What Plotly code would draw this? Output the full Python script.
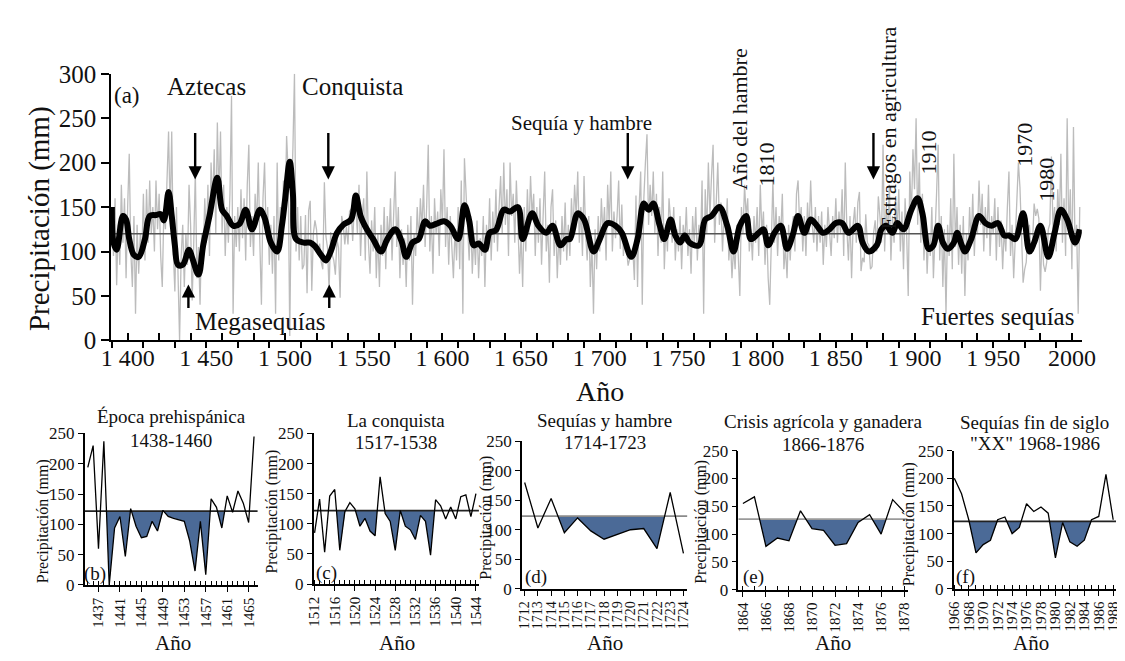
import plotly.graph_objects as go

W, H = 1125, 661
def px(x): return x / W
def py(y): return 1 - y / H

FONT = "Liberation Serif, Times New Roman, Times, serif"

# ---------------- main series (annual, 1390-2005) ----------------
grey_start = 1390
grey_rows = [
 [150, 95, 160, 62, 130, 85, 175, 110, 160, 70],      # 1390
 [150, 210, 100, 60, 140, 30, 130, 75, 120, 95],      # 1400
 [165, 90, 170, 110, 180, 120, 150, 100, 180, 125],   # 1410
 [165, 95, 60, 145, 125, 190, 235, 140, 235, 100],    # 1420
 [55, 150, 70, 0, 95, 130, 60, 120, 85, 175],         # 1430
 [130, 45, 110, 190, 70, 105, 40, 120, 95, 160],      # 1440
 [110, 175, 95, 200, 150, 215, 120, 245, 160, 235],   # 1450
 [120, 175, 95, 150, 110, 165, 275, 30, 140, 105],    # 1460
 [150, 100, 170, 115, 160, 90, 175, 220, 105, 140],   # 1470
 [95, 165, 130, 200, 110, 40, 160, 200, 120, 150],    # 1480
 [85, 130, 75, 140, 30, 200, 90, 150, 110, 180],      # 1490
 [140, 230, 190, 5, 160, 215, 300, 100, 150, 90],     # 1500
 [140, 80, 85, 141, 53, 146, 157, 56, 120, 135],      # 1510
 [125, 96, 109, 88, 80, 178, 117, 104, 56, 122],      # 1520
 [96, 90, 74, 114, 104, 48, 140, 130, 108, 128],      # 1530
 [108, 145, 148, 112, 150, 150, 120, 175, 95, 140],   # 1540
 [160, 90, 190, 110, 75, 135, 100, 150, 70, 120],     # 1550
 [60, 130, 95, 150, 80, 140, 110, 160, 90, 145],      # 1560
 [190, 105, 150, 70, 125, 85, 115, 60, 130, 90],      # 1570
 [140, 40, 120, 95, 150, 110, 160, 125, 175, 105],    # 1580
 [150, 220, 100, 140, 75, 160, 120, 145, 95, 170],    # 1590
 [130, 215, 105, 150, 85, 140, 110, 70, 125, 90],     # 1600
 [150, 80, 180, 30, 205, 160, 130, 90, 140, 75],      # 1610
 [120, 85, 135, 70, 115, 95, 140, 60, 130, 100],      # 1620
 [160, 90, 145, 110, 170, 100, 150, 185, 120, 200],   # 1630
 [130, 170, 95, 200, 140, 165, 110, 180, 130, 75],    # 1640
 [120, 60, 150, 100, 170, 120, 185, 140, 165, 95],    # 1650
 [150, 110, 160, 85, 140, 190, 100, 130, 65, 150],    # 1660
 [170, 95, 135, 70, 120, 85, 140, 100, 155, 90],      # 1670
 [130, 95, 160, 120, 175, 140, 190, 110, 150, 95],    # 1680
 [185, 120, 90, 140, 60, 110, 30, 125, 80, 140],      # 1690
 [100, 160, 120, 150, 90, 175, 130, 190, 100, 145],   # 1700
 [115, 140, 180, 103, 153, 95, 120, 98, 84, 92],      # 1710
 [100, 102, 68, 163, 60, 150, 190, 40, 160, 200],     # 1720
 [232, 130, 175, 140, 190, 120, 165, 95, 150, 110],   # 1730
 [190, 80, 130, 100, 160, 135, 110, 150, 90, 125],    # 1740
 [100, 140, 80, 130, 110, 150, 95, 125, 75, 140],     # 1750
 [110, 150, 90, 130, 105, 180, 30, 170, 120, 200],    # 1760
 [140, 185, 220, 110, 165, 200, 130, 155, 100, 145],  # 1770
 [120, 160, 90, 115, 70, 105, 80, 130, 95, 50],       # 1780
 [150, 120, 175, 140, 160, 100, 125, 90, 140, 110],   # 1790
 [150, 95, 175, 120, 145, 85, 130, 70, 40, 120],      # 1800
 [180, 110, 150, 95, 140, 120, 165, 80, 105, 70],     # 1810
 [130, 90, 125, 140, 100, 165, 180, 130, 150, 100],   # 1820
 [140, 95, 155, 120, 180, 130, 110, 150, 100, 140],   # 1830
 [110, 145, 85, 130, 105, 150, 120, 95, 140, 115],    # 1840
 [160, 110, 145, 120, 170, 95, 200, 125, 90, 140],    # 1850
 [70, 130, 150, 110, 155, 167, 78, 93, 88, 142],      # 1860
 [110, 107, 80, 83, 121, 135, 100, 162, 140, 110],    # 1870
 [220, 100, 150, 120, 175, 90, 140, 110, 160, 125],   # 1880
 [170, 100, 145, 80, 160, 120, 50, 190, 140, 215],    # 1890
 [170, 250, 130, 200, 110, 165, 90, 140, 75, 120],    # 1900
 [95, 150, 70, 130, 165, 220, 90, 140, 60, 125],      # 1910
 [30, 130, 95, 160, 80, 210, 105, 150, 85, 130],      # 1920
 [75, 140, 50, 120, 90, 150, 110, 165, 95, 140],      # 1930
 [120, 180, 130, 165, 100, 150, 115, 175, 95, 140],   # 1940
 [120, 160, 90, 150, 105, 135, 80, 125, 100, 150],    # 1950
 [190, 95, 130, 70, 115, 150, 200, 172, 125, 65],     # 1960
 [80, 88, 125, 130, 100, 111, 154, 140, 148, 137],    # 1970
 [56, 120, 85, 77, 88, 125, 131, 207, 125, 150],      # 1980
 [100, 170, 130, 210, 110, 160, 95, 250, 120, 170],   # 1990
 [80, 240, 105, 130, 30, 150],                        # 2000
]
grey_vals = [v for row in grey_rows for v in row]
grey_years = [grey_start + i for i in range(len(grey_vals))]

smooth_years = [1390, 1391, 1393, 1397, 1399, 1401, 1404, 1407, 1411, 1414, 1418, 1421, 1423, 1426, 1428,
                1430, 1432, 1435, 1439, 1441, 1445, 1448, 1452, 1457, 1460, 1463, 1467, 1471, 1475, 1479,
                1484, 1487, 1491, 1495, 1498, 1500, 1503, 1505, 1507, 1512, 1516, 1519, 1523, 1526, 1529,
                1533, 1537, 1542, 1545, 1548, 1552, 1556, 1561, 1565, 1570, 1574, 1577, 1581, 1585, 1589,
                1592, 1596, 1601, 1605, 1610, 1614, 1617, 1620, 1623, 1627, 1630, 1634, 1639, 1643, 1648,
                1651, 1657, 1661, 1666, 1670, 1675, 1679, 1681, 1686, 1690, 1696, 1700, 1705, 1710, 1714,
                1720, 1724, 1728, 1731, 1734, 1738, 1741, 1745, 1748, 1751, 1754, 1757, 1763, 1767, 1771,
                1776, 1781, 1785, 1789, 1793, 1796, 1801, 1804, 1807, 1811, 1815, 1819, 1823, 1826, 1830,
                1834, 1838, 1842, 1846, 1850, 1854, 1858, 1864, 1867, 1871, 1876, 1879, 1882, 1886, 1889,
                1893, 1898, 1902, 1905, 1909, 1912, 1915, 1918, 1921, 1925, 1927, 1930, 1932, 1936, 1941,
                1945, 1949, 1953, 1957, 1960, 1964, 1969, 1973, 1976, 1980, 1985, 1989, 1993, 1997, 2002,
                2005]
smooth_vals = [150, 110, 102, 140, 136, 114, 96, 94, 114, 140, 141, 142, 135, 167, 140,
               107, 85, 85, 102, 93, 74, 107, 140, 183, 147, 140, 129, 131, 147, 125,
               147, 138, 110, 100, 129, 158, 201, 165, 114, 110, 110, 106, 96, 90, 100,
               121, 130, 136, 163, 140, 125, 114, 100, 114, 125, 112, 94, 110, 114, 134,
               129, 131, 134, 129, 114, 152, 135, 107, 109, 102, 121, 124, 147, 145, 150,
               114, 143, 129, 121, 129, 107, 114, 114, 143, 136, 100, 114, 132, 129, 121,
               94, 114, 154, 147, 154, 130, 114, 136, 118, 110, 118, 110, 107, 136, 140,
               150, 129, 100, 129, 140, 114, 121, 125, 107, 121, 129, 103, 121, 140, 121,
               136, 129, 121, 125, 132, 132, 121, 129, 110, 100, 107, 125, 129, 121, 132,
               125, 147, 160, 143, 103, 107, 129, 110, 103, 110, 121, 107, 100, 114, 140,
               132, 129, 132, 118, 118, 114, 143, 100, 110, 129, 94, 121, 147, 136, 110,
               125]
main_mean = 120

main_tickvals = [1400, 1450, 1500, 1550, 1600, 1650, 1700, 1750, 1800, 1850, 1900, 1950, 2000]
main_ticktext = ["1 400", "1 450", "1 500", "1 550", "1 600", "1 650", "1 700", "1 750",
                 "1 800", "1 850", "1 900", "1 950", "2000"]

# ---------------- detail panels ----------------
b_years = list(range(1435, 1467))
b_vals = [194, 230, 60, 237, 0, 94, 113, 47, 126, 97, 78, 80, 105, 89, 123, 113, 110, 108,
          105, 73, 23, 105, 17, 142, 128, 94, 147, 120, 155, 135, 103, 245]
c_years = list(range(1512, 1545))
c_vals = [85, 141, 53, 146, 157, 56, 120, 135, 125, 96, 109, 88, 80, 178, 117, 104, 56, 122,
          96, 90, 74, 114, 104, 48, 140, 130, 108, 128, 108, 145, 148, 112, 150]
d_years = list(range(1712, 1725))
d_vals = [180, 103, 153, 95, 120, 98, 84, 92, 100, 102, 68, 163, 60]
e_years = list(range(1864, 1879))
e_vals = [155, 167, 78, 93, 88, 142, 110, 107, 80, 83, 121, 135, 100, 162, 140]
f_years = list(range(1966, 1989))
f_vals = [200, 172, 125, 65, 80, 88, 125, 130, 100, 111, 154, 140, 148, 137, 56, 120, 85, 77,
          88, 125, 131, 207, 125]

panel_titles = [["Época prehispánica", "1438-1460"], ["La conquista", "1517-1538"],
                ["Sequías y hambre", "1714-1723"], ["Crisis agrícola y ganadera", "1866-1876"],
                ["Sequías fin de siglo", "\"XX\" 1968-1986"]]
panel_letters = ["(b)", "(c)", "(d)", "(e)", "(f)"]
panel_means = [122, 122, 123, 127, 122]
panel_windows = [(1438, 1461), (1516, 1536), (1714, 1723), (1865, 1877), (1968, 1986)]

# layout geometry (pixels) for each panel
geo = [
    dict(x0=68, x1=245, yt=430, yb=588, xr=[1434.4, 1466.7], t0=1437, dt=4, tf=15,
         t1y=412, t2y=437, lx=79, ly=577, ylx=25, yly=521, ax=158),
    dict(x0=302, x1=471, yt=430, yb=587, xr=[1511.8, 1544.6], t0=1512, dt=4, tf=15,
         t1y=416, t2y=439, lx=315, ly=575, ylx=260, yly=511, ax=387),
    dict(x0=515, x1=684, yt=438, yb=592, xr=[1711.8, 1724.3], t0=1712, dt=1, tf=14,
         t1y=416, t2y=439, lx=529, ly=580, ylx=478, yly=518, ax=600),
    dict(x0=736, x1=909, yt=448, yb=593, xr=[1863.6, 1878.3], t0=1864, dt=2, tf=15,
         t1y=418, t2y=442, lx=752, ly=580, ylx=698, yly=522, ax=833),
    dict(x0=956, x1=1122, yt=448, yb=592, xr=[1965.9, 1988.4], t0=1966, dt=2, tf=15,
         t1y=419, t2y=441, lx=968, ly=580, ylx=910, yly=525, ax=1035),
]
panel_data = [(b_years, b_vals), (c_years, c_vals), (d_years, d_vals), (e_years, e_vals), (f_years, f_vals)]
mean_colors = ["#222222", "#222222", "#8a8a8a", "#9a9a9a", "#222222"]
FILL = "#4b6a97"


def below_polygon(xs, vs, m, a, b):
    """Part of the line that lies under the mean line m, inside [a, b]."""
    ox, oy = [], []
    prev = None
    for x, v in zip(xs, vs):
        if x < a or x > b:
            continue
        if prev is not None:
            x0, v0 = prev
            if (v0 - m) * (v - m) < 0:
                t = (m - v0) / (v - v0)
                ox.append(x0 + t * (x - x0)); oy.append(m)
        ox.append(x); oy.append(min(v, m))
        prev = (x, v)
    return ox, oy


fig = go.Figure()

# main chart traces
fig.add_trace(go.Scatter(x=grey_years, y=grey_vals, mode="lines",
                         line=dict(color="#bcbcbc", width=1.3), xaxis="x", yaxis="y",
                         hoverinfo="skip", showlegend=False))
fig.add_trace(go.Scatter(x=[grey_years[0], grey_years[-1]], y=[main_mean, main_mean], mode="lines",
                         line=dict(color="#555555", width=1.5), xaxis="x2", yaxis="y",
                         hoverinfo="skip", showlegend=False))
fig.add_trace(go.Scatter(x=smooth_years, y=smooth_vals, mode="lines",
                         line=dict(color="black", width=6, shape="spline", smoothing=1.0),
                         xaxis="x3", yaxis="y", hoverinfo="skip", showlegend=False))

main_range = [1389.4, 2006.3]
layout = dict(
    width=W, height=H, margin=dict(l=0, r=0, t=0, b=0),
    paper_bgcolor="white", plot_bgcolor="rgba(0,0,0,0)", showlegend=False,
    font=dict(family=FONT, color="#111111"),
    xaxis=dict(domain=[px(95), px(1087)], range=main_range, anchor="y",
               tickmode="array", tickvals=main_tickvals, ticktext=main_ticktext,
               ticks="", ticklabelstandoff=-5,
               tickfont=dict(size=24, family=FONT, color="#111"),
               showline=True, linecolor="black", linewidth=1.5, showgrid=False, zeroline=False),
    xaxis2=dict(overlaying="x", range=main_range, anchor="y", tickmode="linear", tick0=1390, dtick=20,
                ticks="outside", ticklen=7, tickwidth=1.5, tickcolor="black",
                showticklabels=False, showline=False, showgrid=False, zeroline=False),
    xaxis3=dict(overlaying="x", range=main_range, anchor="y", tickmode="linear", tick0=1400, dtick=20,
                ticks="inside", ticklen=7, tickwidth=1.5, tickcolor="black",
                showticklabels=False, showline=False, showgrid=False, zeroline=False),
    yaxis=dict(domain=[py(333), py(55)], range=[0, 300], anchor="x", tickmode="linear", tick0=0, dtick=50,
               ticks="outside", ticklen=8, tickwidth=1.5, tickcolor="black",
               tickfont=dict(size=25, family=FONT, color="#111"),
               showline=True, linecolor="black", linewidth=1.5, showgrid=False, zeroline=False),
)

annotations = []

def txt(text, x, y, size, angle=0, xa="center", ya="middle"):
    annotations.append(dict(text=text, x=px(x), y=py(y), xref="paper", yref="paper",
                            showarrow=False, xanchor=xa, yanchor=ya, textangle=angle,
                            font=dict(family=FONT, size=size, color="#111111")))

# main texts
txt("Precipitación (mm)", 22, 206, 29, angle=-90)
txt("Año", 595, 386, 28)
txt("(a)", 111, 78, 23)
txt("Aztecas", 193, 68, 25)
txt("Conquista", 342, 68, 25)
txt("Sequía y hambre", 576, 106, 21)
txt("Año del hambre", 738, 102, 22, angle=-90)
txt("1810", 765, 150, 22, angle=-90)
txt("Estragos en agricultura", 889, 112, 22, angle=-90)
txt("1910", 930, 137, 22, angle=-90)
txt("1970", 1029, 129, 22, angle=-90)
txt("1980", 1051, 166, 22, angle=-90)
txt("Megasequías", 248, 313, 25)
txt("Fuertes sequías", 1001, 308, 25)

# arrows (tip in data coordinates)
down_arrows = [1442.9, 1527.5, 1717.8, 1873.9]
up_arrows = [1438.6, 1528.1]
for xa_ in down_arrows:
    annotations.append(dict(x=xa_, y=181, xref="x", yref="y", ax=0, ay=-48, showarrow=True,
                            arrowhead=2, arrowsize=1.1, arrowwidth=2.4, arrowcolor="black", text=""))
for xa_ in up_arrows:
    annotations.append(dict(x=xa_, y=63, xref="x", yref="y", ax=0, ay=25, showarrow=True,
                            arrowhead=2, arrowsize=1.1, arrowwidth=2.4, arrowcolor="black", text=""))

# panels
for i, (g, (yrs, vals)) in enumerate(zip(geo, panel_data)):
    n = i + 4
    xa_name, ya_name = f"x{n}", f"y{n}"
    m = panel_means[i]
    a, b = panel_windows[i]
    fx, fy = below_polygon(yrs, vals, m, a, b)
    fig.add_trace(go.Scatter(x=fx, y=fy, mode="lines", fill="toself", fillcolor=FILL,
                             line=dict(width=0, color=FILL), xaxis=xa_name, yaxis=ya_name,
                             hoverinfo="skip", showlegend=False))
    fig.add_trace(go.Scatter(x=[g["xr"][0], g["xr"][1]], y=[m, m], mode="lines",
                             line=dict(color=mean_colors[i], width=1.8), xaxis=xa_name, yaxis=ya_name,
                             hoverinfo="skip", showlegend=False))
    fig.add_trace(go.Scatter(x=yrs, y=vals, mode="lines", line=dict(color="black", width=1.3),
                             xaxis=xa_name, yaxis=ya_name, hoverinfo="skip", showlegend=False))
    xdef = dict(domain=[px(g["x0"]), px(g["x1"])], range=g["xr"], anchor=ya_name,
                tickmode="linear", tick0=g["t0"], dtick=g["dt"], tickangle=-90,
                ticks="outside", ticklen=5, tickwidth=1.2, tickcolor="black",
                tickfont=dict(size=g["tf"], family=FONT, color="#111"),
                showline=True, linecolor="black", linewidth=1.5,
                showgrid=False, zeroline=False)
    if g["dt"] > 1:
        xdef["minor"] = dict(dtick=1, tick0=g["t0"], ticks="inside", ticklen=4,
                             tickwidth=1, tickcolor="black")
    layout[f"xaxis{n}"] = xdef
    layout[f"yaxis{n}"] = dict(domain=[py(g["yb"]), py(g["yt"])], range=[0, 250], anchor=xa_name,
                               tickmode="linear", tick0=0, dtick=50, ticks="outside", ticklen=5,
                               tickwidth=1.2, tickcolor="black",
                               tickfont=dict(size=17, family=FONT, color="#111"),
                               showline=True, linecolor="black", linewidth=1.5,
                               showgrid=False, zeroline=False)
    cx = (g["x0"] + g["x1"]) / 2
    txt(panel_titles[i][0], cx, g["t1y"], 19)
    txt(panel_titles[i][1], cx, g["t2y"], 19)
    txt(panel_letters[i], g["lx"], g["ly"], 19)
    txt("Precipitación (mm)", g["ylx"], g["yly"], 16, angle=-90)
    txt("Año", g["ax"], 648, 21)

layout["annotations"] = annotations
fig.update_layout(**layout)
fig.write_html("out.html")
